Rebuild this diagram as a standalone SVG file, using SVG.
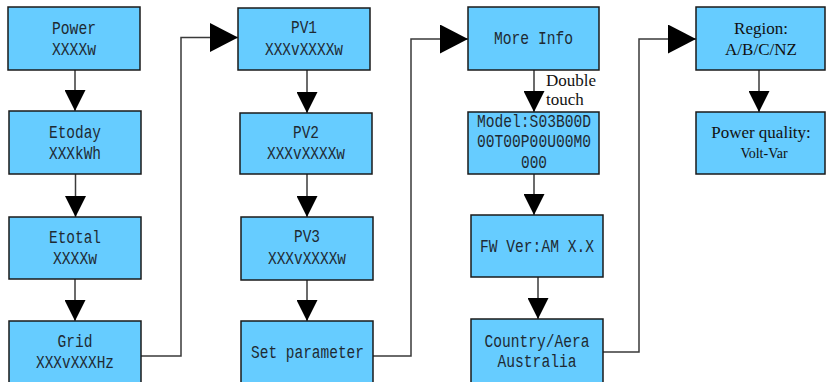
<svg xmlns="http://www.w3.org/2000/svg" width="826" height="382" viewBox="0 0 826 382">
<style>
.box{fill:#66CCFF;stroke:#1a1a1a;stroke-width:1.5}
.m{font-family:"Liberation Mono","DejaVu Sans Mono",monospace;font-size:18px;fill:#1e2a33;text-anchor:middle}
.s{font-family:"Liberation Serif","Times New Roman",serif;fill:#111;text-anchor:middle}
.c{fill:none;stroke:#3a3a3a;stroke-width:1.5}
</style>
<defs>
<marker id="a" viewBox="0 0 21 21" refX="21" refY="10.5" markerWidth="21" markerHeight="21" markerUnits="userSpaceOnUse" orient="auto"><path d="M0,0 L21,10.5 L0,21 Z" fill="#000"/></marker>
<marker id="b" viewBox="0 0 28 29" refX="28" refY="14.5" markerWidth="28" markerHeight="29" markerUnits="userSpaceOnUse" orient="auto"><path d="M0,0 L28,14.5 L0,29 Z" fill="#000"/></marker>
</defs>
<g id="connectors">
<path class="c" d="M75,70 V111" marker-end="url(#a)"/>
<path class="c" d="M75.5,174 V217" marker-end="url(#a)"/>
<path class="c" d="M75,279 V321" marker-end="url(#a)"/>
<path class="c" d="M141,356 H181 V37.5 H238" marker-end="url(#b)"/>
<path class="c" d="M307,70 V113" marker-end="url(#a)"/>
<path class="c" d="M307,174 V217" marker-end="url(#a)"/>
<path class="c" d="M307,280 V321" marker-end="url(#a)"/>
<path class="c" d="M373,356 H411 V39 H468" marker-end="url(#b)"/>
<path class="c" d="M534,70 V112" marker-end="url(#a)"/>
<path class="c" d="M534,174 V215" marker-end="url(#a)"/>
<path class="c" d="M538,277 V319" marker-end="url(#a)"/>
<path class="c" d="M603,352 H639 V39 H696" marker-end="url(#b)"/>
<path class="c" d="M759,70 V112" marker-end="url(#a)"/>
</g>
<g id="power"><rect class="box" x="8" y="7" width="132" height="63"/>
<text class="m" x="74" y="34" textLength="44" lengthAdjust="spacingAndGlyphs">Power</text>
<text class="m" x="74" y="55" textLength="44" lengthAdjust="spacingAndGlyphs">XXXXw</text></g>
<g id="etoday"><rect class="box" x="9" y="111" width="132" height="63"/>
<text class="m" x="75" y="138" textLength="52" lengthAdjust="spacingAndGlyphs">Etoday</text>
<text class="m" x="75" y="159" textLength="52" lengthAdjust="spacingAndGlyphs">XXXkWh</text></g>
<g id="etotal"><rect class="box" x="9" y="217" width="132" height="62"/>
<text class="m" x="75" y="243" textLength="52" lengthAdjust="spacingAndGlyphs">Etotal</text>
<text class="m" x="75" y="264" textLength="44" lengthAdjust="spacingAndGlyphs">XXXXw</text></g>
<g id="grid"><rect class="box" x="9" y="321" width="132" height="70"/>
<text class="m" x="75" y="347" textLength="35" lengthAdjust="spacingAndGlyphs">Grid</text>
<text class="m" x="75" y="368" textLength="78" lengthAdjust="spacingAndGlyphs">XXXvXXXHz</text></g>
<g id="pv1"><rect class="box" x="238" y="8" width="132" height="62"/>
<text class="m" x="304" y="33" textLength="26" lengthAdjust="spacingAndGlyphs">PV1</text>
<text class="m" x="304" y="55" textLength="78" lengthAdjust="spacingAndGlyphs">XXXvXXXXw</text></g>
<g id="pv2"><rect class="box" x="240" y="113" width="132" height="61"/>
<text class="m" x="306" y="138" textLength="26" lengthAdjust="spacingAndGlyphs">PV2</text>
<text class="m" x="306" y="159" textLength="78" lengthAdjust="spacingAndGlyphs">XXXvXXXXw</text></g>
<g id="pv3"><rect class="box" x="241" y="217" width="132" height="63"/>
<text class="m" x="307" y="242" textLength="26" lengthAdjust="spacingAndGlyphs">PV3</text>
<text class="m" x="307" y="264" textLength="78" lengthAdjust="spacingAndGlyphs">XXXvXXXXw</text></g>
<g id="set-parameter"><rect class="box" x="241" y="321" width="132" height="70"/>
<text class="m" x="307.5" y="358" textLength="113" lengthAdjust="spacingAndGlyphs">Set parameter</text></g>
<g id="more-info"><rect class="box" x="468" y="7" width="131" height="63"/>
<text class="m" x="533.5" y="44" textLength="79" lengthAdjust="spacingAndGlyphs">More Info</text></g>
<g id="double-touch"><text class="s" style="text-anchor:start;font-size:17px" x="546" y="86">Double</text>
<text class="s" style="text-anchor:start;font-size:17px" x="546" y="105">touch</text></g>
<g id="model"><rect class="box" x="468" y="112" width="131" height="62"/>
<text class="m" x="534" y="127" textLength="114" lengthAdjust="spacingAndGlyphs">Model:S03B00D</text>
<text class="m" x="534" y="147" textLength="114" lengthAdjust="spacingAndGlyphs">00T00P00U00M0</text>
<text class="m" x="534" y="168" textLength="26" lengthAdjust="spacingAndGlyphs">000</text></g>
<g id="fw-ver"><rect class="box" x="471" y="215" width="132" height="62"/>
<text class="m" x="537" y="252" textLength="114" lengthAdjust="spacingAndGlyphs">FW Ver:AM X.X</text></g>
<g id="country"><rect class="box" x="471" y="319" width="132" height="70"/>
<text class="m" x="537" y="347" textLength="105" lengthAdjust="spacingAndGlyphs">Country/Aera</text>
<text class="m" x="537" y="367" textLength="79" lengthAdjust="spacingAndGlyphs">Australia</text></g>
<g id="region"><rect class="box" x="696" y="7" width="129" height="63"/>
<text class="s" style="font-size:17px" x="761" y="34">Region:</text>
<text class="s" style="font-size:17px" x="761" y="55">A/B/C/NZ</text></g>
<g id="power-quality"><rect class="box" x="696" y="112" width="129" height="62"/>
<text class="s" style="font-size:17px" x="761" y="138">Power quality:</text>
<text class="s" style="font-size:14px" x="764" y="158">Volt-Var</text></g>
</svg>
